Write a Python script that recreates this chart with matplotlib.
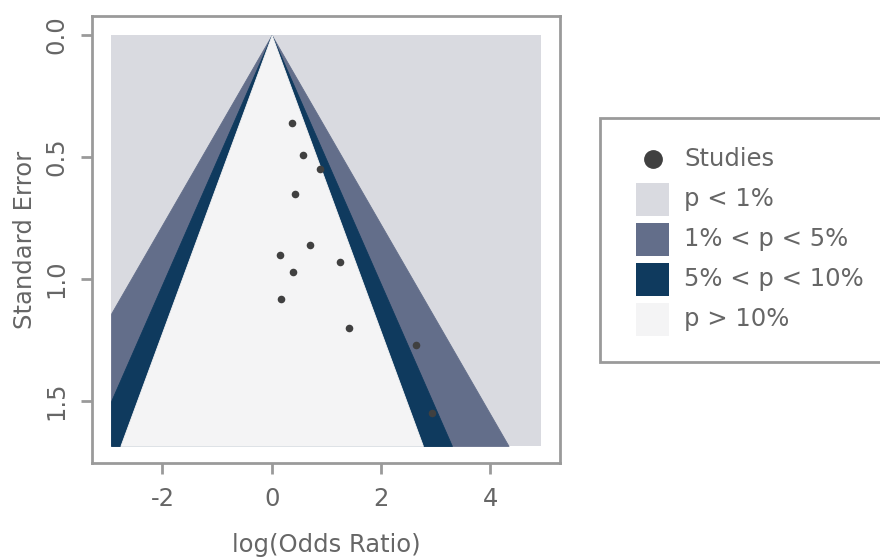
import numpy as np
import matplotlib.pyplot as plt
from matplotlib.patches import Rectangle
from matplotlib.lines import Line2D

plt.rcParams['font.family'] = ['DejaVu Sans']

# ---- data ----
log_or = [0.38, 0.58, 0.89, 0.43, 0.71, 0.15, 1.25, 0.39, 0.18, 1.42, 2.64, 2.94]
std_err = [0.36, 0.49, 0.55, 0.65, 0.86, 0.90, 0.93, 0.97, 1.08, 1.20, 1.27, 1.55]

levels = ["p < 1%", "1% < p < 5%", "5% < p < 10%", "p > 10%"]
z_crit = [2.576, 1.960, 1.645]  # 1%, 5%, 10% two-sided

# ---- styles ----
c_p1 = "#d9dae0"
c_p5 = "#636e8a"
c_p10 = "#0f3a5e"
c_ns = "#f4f4f5"
c_pt = "#404040"
c_txt = "#666666"
c_frame = "#9a9a9a"
fills = [c_p1, c_p5, c_p10, c_ns]
fs = 17.5

x_lo, x_hi = -2.94, 4.93
se_max = 1.684

W, H = 880, 558
fig = plt.figure(figsize=(W/100, H/100), dpi=100)
ax = fig.add_axes([92/W, 1-463/H, (560-92)/W, (463-16)/H])

# background: p < 1%, then nested contours
ax.fill_between([x_lo, x_hi], 0, se_max, color=c_p1, lw=0)
se = np.linspace(0, se_max, 400)
for z, col in zip(z_crit + [1.645], fills[1:]):
    ax.fill_betweenx(se, np.maximum(-z*se, x_lo), np.minimum(z*se, x_hi),
                     facecolor=col, edgecolor=col, lw=0.6)

ax.scatter(log_or, std_err, s=30, color=c_pt, zorder=3, lw=0)

ax.set_xlim(-3.29, 5.28)
ax.set_ylim(1.754, -0.078)
ax.set_xticks([-2, 0, 2, 4])
ax.set_xticklabels(["-2", "0", "2", "4"])
ax.set_yticks([0.0, 0.5, 1.0, 1.5])
ax.set_yticklabels(["0.0", "0.5", "1.0", "1.5"], rotation=90, va="center")
ax.tick_params(colors=c_frame, labelcolor=c_txt, labelsize=fs, length=8,
               width=2, pad=9)
for sp in ax.spines.values():
    sp.set_color(c_frame)
    sp.set_linewidth(2)
ax.set_xlabel("log(Odds Ratio)", fontsize=fs, color=c_txt, labelpad=16)
ax.set_ylabel("Standard Error", fontsize=fs, color=c_txt, labelpad=5)

# legend box (runs off the right edge like the reference), drawn by hand
fig.patches.append(Rectangle((600/W, 1-362/H), 300/W, (362-118)/H,
                             transform=fig.transFigure, facecolor="white",
                             edgecolor=c_frame, lw=2))
row_y = [159 + 40*i for i in range(len(levels) + 1)]
fig.add_artist(Line2D([653/W], [1-row_y[0]/H], marker="o", ls="",
                      color=c_pt, markersize=12.5, transform=fig.transFigure))
for lab, col, yy in zip(levels, fills, row_y[1:]):
    fig.patches.append(Rectangle((636/W, 1-(yy+16.5)/H), 33/W, 33/H,
                                 transform=fig.transFigure, facecolor=col,
                                 edgecolor="none"))
for lab, yy in zip(["Studies"] + levels, row_y):
    fig.text(684/W, 1-yy/H, lab, fontsize=fs, color=c_txt, va="center",
             ha="left")

fig.savefig("out.png", dpi=100)
